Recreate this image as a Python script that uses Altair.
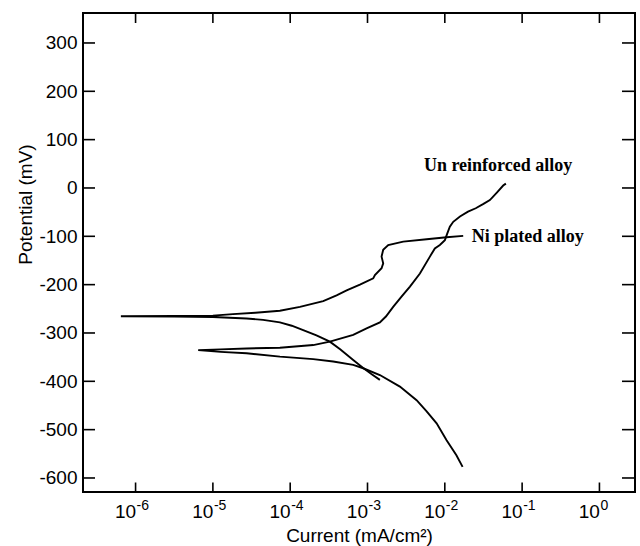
import altair as alt
import pandas as pd

# Ni plated alloy: scan path (cathodic end -> Ecorr -> anodic end); log10 of current (mA/cm2) and potential (mV)
ni_log_i = [-2.84, -2.95, -3.06, -3.185, -3.35, -3.487, -3.66, -3.832, -3.98, -4.133, -4.35, -4.564, -5.0, -5.5, -6.19,
            -5.5, -5.0, -4.741, -4.45, -4.133, -3.874, -3.573, -3.40, -3.27, -3.098, -2.926, -2.904, -2.818, -2.797,
            -2.818, -2.797, -2.732, -2.538, -2.235, -1.977, -1.762]
ni_e = [-397, -385, -372, -356, -334, -318, -305, -294, -285, -278, -273, -270, -267, -266, -265.5,
        -265, -264, -261, -258, -254, -246, -234, -222, -212, -200, -187, -180, -166, -156,
        -142, -128, -118, -111, -106, -102, -99]

# Un reinforced alloy
un_log_i = [-1.770, -1.85, -1.977, -2.106, -2.235, -2.365, -2.581, -2.840, -3.056, -3.185, -3.444, -3.702,
            -4.133, -4.564, -4.9, -5.19,
            -4.9, -4.564, -4.133, -3.702, -3.487, -3.185, -3.012, -2.84, -2.762, -2.668, -2.56, -2.451,
            -2.322, -2.193, -2.129, -2.064, -1.999, -1.97, -1.935, -1.891, -1.804, -1.70, -1.60, -1.50,
            -1.417, -1.33, -1.245, -1.21]
un_e = [-577, -553, -522, -487, -462, -439, -411, -387, -373, -366, -359, -354,
        -349, -342, -339, -335.5,
        -334, -332, -330.5, -325, -318, -304, -290.5, -278, -266, -246, -225, -204,
        -177, -142, -125, -118, -108, -95, -80, -70, -59, -49, -42, -33,
        -25, -10, 5, 9]

x_tick_exps = [-6, -5, -4, -3, -2, -1, 0]
y_ticks = [-600, -500, -400, -300, -200, -100, 0, 100, 200, 300]

label_text = ["Un reinforced alloy", "Ni plated alloy"]
label_log_i = [-2.27, -1.653]
label_e = [35, -111]

W, H = 552, 479
X_DOMAIN = [10 ** -6.68, 10 ** 0.46]
Y_DOMAIN = [-629, 362]

rows = []
for name, li, ee in [("Ni plated alloy", ni_log_i, ni_e), ("Un reinforced alloy", un_log_i, un_e)]:
    for k, (l, e) in enumerate(zip(li, ee)):
        rows.append({"series": name, "i": k, "current": 10 ** l, "potential": e})
curves = pd.DataFrame(rows)

xt = pd.DataFrame({"current": [10.0 ** e for e in x_tick_exps], "exp": [str(e) for e in x_tick_exps]})
yt = pd.DataFrame({"potential": y_ticks})
labs = pd.DataFrame({"current": [10 ** v for v in label_log_i], "potential": label_e, "text": label_text})

xs = alt.Scale(type="log", domain=X_DOMAIN, nice=False)
ys = alt.Scale(domain=Y_DOMAIN, nice=False, zero=False)

FONT = "Liberation Sans"

x_axis = alt.Axis(
    values=[10.0 ** e for e in x_tick_exps], labelExpr="'10'", labelAlign="right",
    labelBaseline="middle", labelPadding=19, ticks=False, domain=False, grid=False,
    labelFontSize=19, labelOverlap=False,
    title="Current (mA/cm²)", titleY=43, titleX=W / 2, titleBaseline="middle",
    titleFontSize=19, titleFontWeight="normal")
y_axis = alt.Axis(
    values=y_ticks, labelExpr="datum.value + ''", labelPadding=6, ticks=False,
    domain=False, grid=False, labelFontSize=19,
    title="Potential (mV)", titleAngle=270, titleX=-58, titleY=191, titleAlign="center",
    titleBaseline="middle", titleFontSize=19, titleFontWeight="normal")


def xenc():
    return alt.X("current:Q", scale=xs, axis=x_axis)


def yenc():
    return alt.Y("potential:Q", scale=ys, axis=y_axis)


lines = alt.Chart(curves).mark_line(color="black", strokeWidth=1.9).encode(
    x=xenc(), y=yenc(), detail="series:N", order="i:Q")

tick_style = dict(color="black", strokeWidth=1.6)
bottom_ticks = alt.Chart(xt).mark_rule(**tick_style).encode(x=xenc(), y=alt.value(H), y2=alt.value(H - 9.5))
top_ticks = alt.Chart(xt).mark_rule(**tick_style).encode(x=xenc(), y=alt.value(0), y2=alt.value(10))
left_ticks = alt.Chart(yt).mark_rule(**tick_style).encode(y=yenc(), x=alt.value(0), x2=alt.value(12))
right_ticks = alt.Chart(yt).mark_rule(**tick_style).encode(y=yenc(), x=alt.value(W - 13), x2=alt.value(W))

exps = alt.Chart(xt).mark_text(align="left", baseline="middle", fontSize=14, font=FONT, color="black", dx=1).encode(
    x=xenc(), y=alt.value(H + 14), text="exp:N")

annot = alt.Chart(labs).mark_text(align="left", baseline="alphabetic", font="Liberation Serif",
                                  fontWeight="bold", fontSize=18, color="black").encode(
    x=xenc(), y=yenc(), text="text:N")

chart = alt.layer(lines, bottom_ticks, top_ticks, left_ticks, right_ticks, exps, annot).properties(
    width=W, height=H,
    autosize=alt.AutoSizeParams(type="none"),
    padding={"left": 83, "top": 13, "right": 5, "bottom": 54},
    background="white",
).configure_view(stroke="black", strokeWidth=2).configure_axis(
    labelFont=FONT, titleFont=FONT, labelColor="black", titleColor="black")

chart.save("out.html", embed_options={"renderer": "svg", "actions": False})
